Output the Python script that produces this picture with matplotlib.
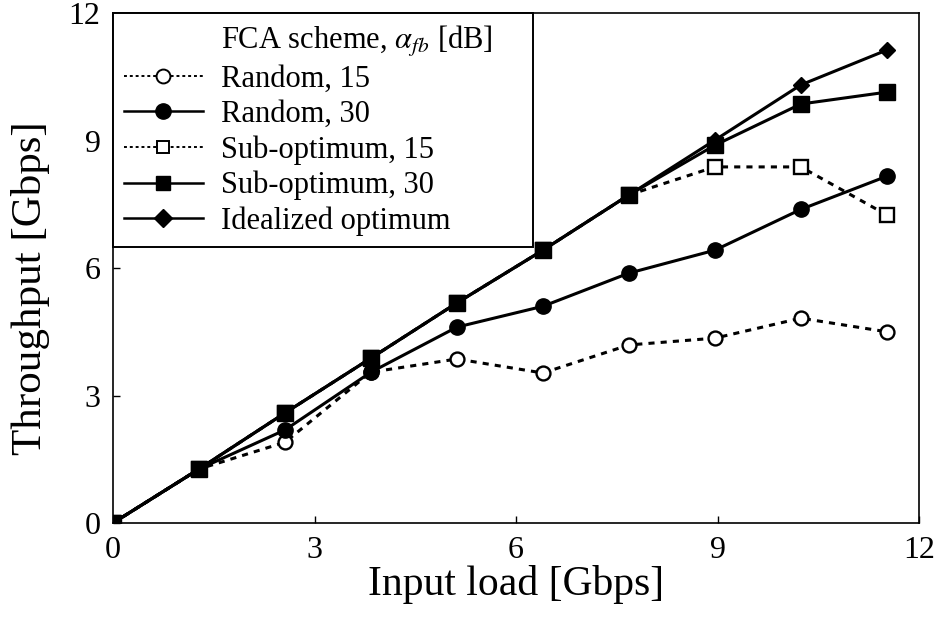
import numpy as np
import matplotlib.pyplot as plt
from matplotlib.lines import Line2D

plt.rcParams['font.family'] = ['Liberation Serif', 'DejaVu Serif']
plt.rcParams['mathtext.fontset'] = 'stix'

load = [0, 1.28, 2.56, 3.84, 5.12, 6.4, 7.68, 8.96, 10.24, 11.52]
random_15 = [0, 1.27, 1.9, 3.55, 3.86, 3.53, 4.19, 4.35, 4.82, 4.5]
random_30 = [0, 1.27, 2.19, 3.55, 4.61, 5.1, 5.88, 6.42, 7.38, 8.16]
subopt_15 = [0, 1.27, 2.59, 3.88, 5.18, 6.42, 7.72, 8.38, 8.38, 7.25]
subopt_30 = [0, 1.27, 2.59, 3.88, 5.18, 6.42, 7.72, 8.89, 9.86, 10.14]
ideal = [0, 1.27, 2.59, 3.88, 5.18, 6.42, 7.72, 9.01, 10.31, 11.13]

fig = plt.figure(figsize=(9.34, 6.23), dpi=100)
ax = fig.add_axes([0.121, 0.1605, 0.863, 0.8185])

dot = (0, (2.0, 2.0))
lw = 2.2
ax.plot(load, random_15, color='black', lw=lw, ls=dot, marker='o', ms=10,
        mfc='white', mec='black', mew=1.7, label='Random, 15')
ax.plot(load, subopt_15, color='black', lw=lw, ls=dot, marker='s', ms=10,
        mfc='white', mec='black', mew=1.7, label='Sub-optimum, 15')
ax.plot(load, ideal, color='black', lw=lw, ls='-', marker='D', ms=8.5,
        mfc='black', mec='black', label='Idealized optimum')
ax.plot(load, subopt_30, color='black', lw=lw, ls='-', marker='s', ms=11,
        mfc='black', mec='black', label='Sub-optimum, 30')
ax.plot(load, random_30, color='black', lw=lw, ls='-', marker='o', ms=11,
        mfc='black', mec='black', label='Random, 30')

ax.set_xlim(0, 12)
ax.set_ylim(0, 12)
ax.set_xticks([0, 3, 6, 9, 12])
ax.set_yticks([0, 3, 6, 9, 12])
ax.tick_params(direction='in', length=5, width=1, labelsize=23, pad=9)
for s in ax.spines.values():
    s.set_linewidth(1.2)

ax.set_xlabel('Input load [Gbps]', fontsize=30, labelpad=0)
ax.set_ylabel('Throughput [Gbps]', fontsize=31)
ax.yaxis.set_label_coords(-0.078, 0.46)

handles = [
    Line2D([], [], ls='none'),
    Line2D([], [], color='black', lw=1.4, ls=(0, (1.5, 1.5)), marker='o', ms=10, mfc='white', mew=1.4),
    Line2D([], [], color='black', lw=1.8, ls='-', marker='o', ms=11, mfc='black'),
    Line2D([], [], color='black', lw=1.4, ls=(0, (1.5, 1.5)), marker='s', ms=9, mfc='white', mew=1.4),
    Line2D([], [], color='black', lw=1.8, ls='-', marker='s', ms=10, mfc='black'),
    Line2D([], [], color='black', lw=1.8, ls='-', marker='D', ms=9, mfc='black'),
]
labels = ['FCA scheme, $\\alpha_{fb}$ [dB]', 'Random, 15', 'Random, 30',
          'Sub-optimum, 15', 'Sub-optimum, 30', 'Idealized optimum']
leg = ax.legend(handles, labels, loc='upper left', bbox_to_anchor=(0, 0, 0.521, 1),
                mode='expand', borderaxespad=0, fontsize=22,
                frameon=True, fancybox=False, edgecolor='black', framealpha=1,
                handlelength=2.6, handletextpad=0.6, labelspacing=0.2,
                borderpad=0.35)
leg.get_frame().set_linewidth(1.4)

fig.savefig('out.png', dpi=100)
